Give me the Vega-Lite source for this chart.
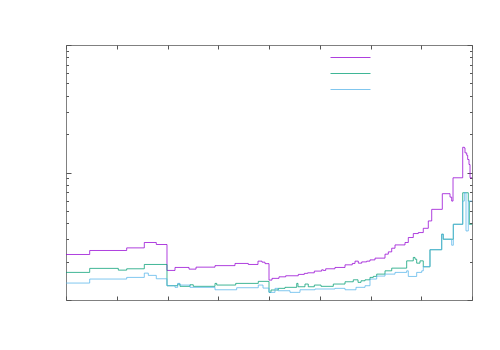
{
"$schema": "https://vega.github.io/schema/vega-lite/v6.json",
"width": 406, "height": 255,
"autosize": {"type": "none"},
"padding": {"left": 66, "top": 45, "right": 28, "bottom": 50},
"background": "white",
"config": {
 "view": {"stroke": "#808080", "strokeWidth": 1},
 "axis": {"labels": false, "grid": false, "domain": false, "title": null, "tickColor": "#555555", "tickWidth": 1}
},
"datasets": {
"series": [
{"s":"1","x":0,"v":0.2275},{"s":"1","x":4.67,"v":0.2445},{"s":"1","x":11.96,"v":0.2563},{"s":"1","x":15.43,"v":0.2825},{"s":"1","x":17.79,"v":0.2724},{"s":"1","x":19.9,"v":0.1706},{"s":"1","x":21.48,"v":0.18},{"s":"1","x":24.24,"v":0.1746},{"s":"1","x":25.62,"v":0.181},{"s":"1","x":29.36,"v":0.186},{"s":"1","x":33.3,"v":0.1935},{"s":"1","x":35.92,"v":0.19},{"s":"1","x":37.83,"v":0.2017},{"s":"1","x":38.62,"v":0.198},{"s":"1","x":39.21,"v":0.1928},{"s":"1","x":40.0,"v":0.1433},{"s":"1","x":40.59,"v":0.1478},{"s":"1","x":41.97,"v":0.152},{"s":"1","x":43.29,"v":0.1549},{"s":"1","x":45.77,"v":0.1588},{"s":"1","x":46.96,"v":0.1617},{"s":"1","x":47.62,"v":0.1634},{"s":"1","x":48.93,"v":0.1685},{"s":"1","x":50.38,"v":0.1725},{"s":"1","x":50.7,"v":0.1706},{"s":"1","x":51.17,"v":0.1757},{"s":"1","x":53.0,"v":0.18},{"s":"1","x":54.98,"v":0.1887},{"s":"1","x":56.41,"v":0.1935},{"s":"1","x":56.95,"v":0.2017},{"s":"1","x":57.6,"v":0.1945},{"s":"1","x":58.27,"v":0.199},{"s":"1","x":59.25,"v":0.2017},{"s":"1","x":59.9,"v":0.2064},{"s":"1","x":60.89,"v":0.213},{"s":"1","x":62.86,"v":0.2288},{"s":"1","x":63.51,"v":0.2385},{"s":"1","x":64.18,"v":0.2548},{"s":"1","x":64.83,"v":0.2704},{"s":"1","x":66.8,"v":0.2825},{"s":"1","x":67.45,"v":0.309},{"s":"1","x":68.43,"v":0.332},{"s":"1","x":69.42,"v":0.338},{"s":"1","x":70.4,"v":0.365},{"s":"1","x":71.39,"v":0.417},{"s":"1","x":72.06,"v":0.514},{"s":"1","x":74.15,"v":0.682},{"s":"1","x":75.67,"v":0.641},{"s":"1","x":76.0,"v":0.597},{"s":"1","x":76.26,"v":0.909},{"s":"1","x":78.17,"v":1.577},{"s":"1","x":78.49,"v":1.56},{"s":"1","x":78.62,"v":1.425},{"s":"1","x":78.96,"v":1.365},{"s":"1","x":79.15,"v":1.264},{"s":"1","x":79.41,"v":1.155},{"s":"1","x":79.61,"v":0.909},{"s":"1","x":80,"v":0.909},
{"s":"2","x":0,"v":0.1646},{"s":"2","x":4.67,"v":0.177},{"s":"2","x":10.31,"v":0.1715},{"s":"2","x":11.96,"v":0.1757},{"s":"2","x":15.43,"v":0.19},{"s":"2","x":19.9,"v":0.1294},{"s":"2","x":22.01,"v":0.1334},{"s":"2","x":22.46,"v":0.128},{"s":"2","x":24.43,"v":0.1317},{"s":"2","x":25.08,"v":0.128},{"s":"2","x":29.36,"v":0.135},{"s":"2","x":29.7,"v":0.131},{"s":"2","x":33.44,"v":0.135},{"s":"2","x":37.89,"v":0.14},{"s":"2","x":40.0,"v":0.1148},{"s":"2","x":40.39,"v":0.1198},{"s":"2","x":41.83,"v":0.1234},{"s":"2","x":43.15,"v":0.1257},{"s":"2","x":45.46,"v":0.135},{"s":"2","x":45.71,"v":0.127},{"s":"2","x":47.09,"v":0.1334},{"s":"2","x":47.74,"v":0.127},{"s":"2","x":48.93,"v":0.131},{"s":"2","x":50.25,"v":0.128},{"s":"2","x":52.67,"v":0.1334},{"s":"2","x":54.98,"v":0.139},{"s":"2","x":56.61,"v":0.144},{"s":"2","x":57.54,"v":0.1375},{"s":"2","x":58.13,"v":0.1415},{"s":"2","x":58.92,"v":0.144},{"s":"2","x":59.9,"v":0.1504},{"s":"2","x":60.55,"v":0.1532},{"s":"2","x":61.22,"v":0.1596},{"s":"2","x":62.86,"v":0.1694},{"s":"2","x":64.18,"v":0.1778},{"s":"2","x":67.13,"v":0.2028},{"s":"2","x":68.43,"v":0.2157},{"s":"2","x":68.77,"v":0.209},{"s":"2","x":69.1,"v":0.1945},{"s":"2","x":69.75,"v":0.2028},{"s":"2","x":70.4,"v":0.182},{"s":"2","x":71.72,"v":0.248},{"s":"2","x":74.03,"v":0.328},{"s":"2","x":74.34,"v":0.2997},{"s":"2","x":76.32,"v":0.3925},{"s":"2","x":78.17,"v":0.694},{"s":"2","x":79.27,"v":0.597},{"s":"2","x":79.47,"v":0.3925},{"s":"2","x":80,"v":0.3925},
{"s":"3","x":0,"v":0.1358},{"s":"3","x":4.67,"v":0.146},{"s":"3","x":11.96,"v":0.1504},{"s":"3","x":15.43,"v":0.1625},{"s":"3","x":16.22,"v":0.156},{"s":"3","x":17.79,"v":0.1467},{"s":"3","x":19.9,"v":0.1294},{"s":"3","x":21.48,"v":0.1257},{"s":"3","x":22.01,"v":0.135},{"s":"3","x":22.46,"v":0.131},{"s":"3","x":24.43,"v":0.1257},{"s":"3","x":29.36,"v":0.1203},{"s":"3","x":33.63,"v":0.1248},{"s":"3","x":37.89,"v":0.131},{"s":"3","x":38.82,"v":0.124},{"s":"3","x":40.0,"v":0.1148},{"s":"3","x":41.18,"v":0.1234},{"s":"3","x":41.77,"v":0.1182},{"s":"3","x":44.14,"v":0.1148},{"s":"3","x":46.11,"v":0.1203},{"s":"3","x":49.06,"v":0.122},{"s":"3","x":53.0,"v":0.1234},{"s":"3","x":54.98,"v":0.1203},{"s":"3","x":57.14,"v":0.1257},{"s":"3","x":58.92,"v":0.1294},{"s":"3","x":59.9,"v":0.146},{"s":"3","x":61.22,"v":0.154},{"s":"3","x":62.86,"v":0.1596},{"s":"3","x":64.83,"v":0.1646},{"s":"3","x":67.13,"v":0.1694},{"s":"3","x":67.45,"v":0.153},{"s":"3","x":69.1,"v":0.1646},{"s":"3","x":70.09,"v":0.1694},{"s":"3","x":70.4,"v":0.183},{"s":"3","x":71.72,"v":0.248},{"s":"3","x":74.03,"v":0.328},{"s":"3","x":74.34,"v":0.2997},{"s":"3","x":76.0,"v":0.269},{"s":"3","x":76.32,"v":0.3925},{"s":"3","x":78.17,"v":0.597},{"s":"3","x":78.49,"v":0.694},{"s":"3","x":78.82,"v":0.348},{"s":"3","x":79.27,"v":0.597},{"s":"3","x":80,"v":0.597}
]
},
"data": {"name": "series"},
"layer": [
 {
  "mark": {"type": "line", "interpolate": "step-after", "strokeWidth": 1, "strokeOpacity": 0.75},
  "encoding": {
   "x": {"field": "x", "type": "quantitative", "scale": {"domain": [0, 80], "nice": false, "zero": false},
         "axis": {"orient": "bottom", "values": [0,10,20,30,40,50,60,70,80], "tickSize": -4}},
   "y": {"field": "v", "type": "quantitative", "scale": {"type": "log", "domain": [0.1, 10], "nice": false},
         "axis": {"orient": "left", "values": [0.1, 1, 10], "tickSize": -5}},
   "color": {"field": "s", "type": "nominal", "scale": {"domain": ["1","2","3"], "range": ["#9400d3", "#009e73", "#56b4e9"]},
      "legend": {"orient": "none", "legendX": 274, "legendY": 2, "title": null, "labelExpr": "''", "labelFontSize": 1,
                 "symbolType": "M-2,0H2", "symbolSize": 400, "symbolStrokeWidth": 1, "symbolOpacity": 0.75, "rowPadding": 3, "padding": 0}}
  }
 },
 {
  "mark": {"type": "point", "opacity": 0},
  "encoding": {
   "x": {"field": "x", "type": "quantitative", "axis": {"orient": "top", "values": [0,10,20,30,40,50,60,70,80], "tickSize": -4}},
   "y": {"field": "v", "type": "quantitative", "axis": {"orient": "right", "values": [0.1, 1, 10], "tickSize": -5}}
  }
 },
 {
  "mark": {"type": "point", "opacity": 0},
  "encoding": {
   "x": {"field": "x", "type": "quantitative", "axis": null},
   "y": {"field": "v", "type": "quantitative", "axis": {"orient": "left", "values": [0.2,0.3,0.4,0.5,0.6,0.7,0.8,0.9,2,3,4,5,6,7,8,9], "tickSize": -2.5}}
  }
 },
 {
  "mark": {"type": "point", "opacity": 0},
  "encoding": {
   "x": {"field": "x", "type": "quantitative", "axis": null},
   "y": {"field": "v", "type": "quantitative", "axis": {"orient": "right", "values": [0.2,0.3,0.4,0.5,0.6,0.7,0.8,0.9,2,3,4,5,6,7,8,9], "tickSize": -2.5}}
  }
 }
],
"resolve": {"axis": {"x": "independent", "y": "independent"}}
}
